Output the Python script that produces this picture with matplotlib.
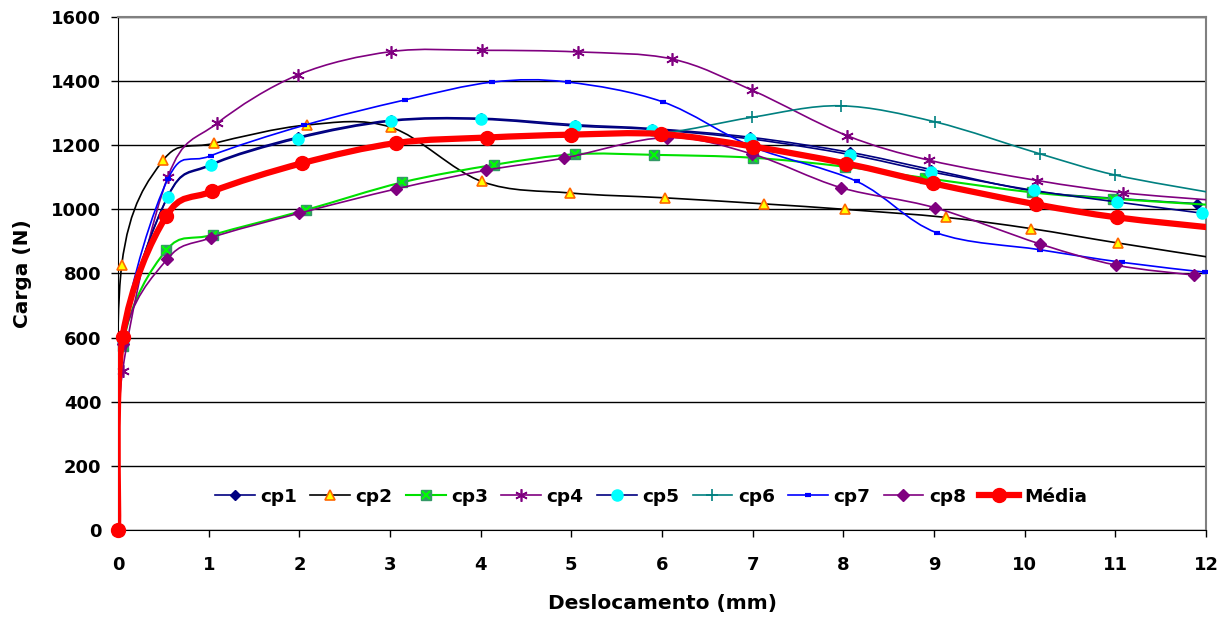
import numpy as np
import matplotlib
matplotlib.use("Agg")
import matplotlib.pyplot as plt
from matplotlib.path import Path
from matplotlib.patches import PathPatch
from matplotlib.lines import Line2D
from matplotlib.legend_handler import HandlerTuple

# Dados (deslocamento em mm, carga em N)
cp1_x = [0, 0.05, 0.55, 1.02, 1.98, 3.01, 4.0, 5.04, 5.89, 6.97, 8.07, 8.97, 10.1, 11.02, 11.9]
cp1_y = [0, 590, 1042, 1140, 1225, 1278, 1284, 1264, 1252, 1225, 1178, 1124, 1057, 1034, 1018]

cp2_x = [0, 0.04, 0.50, 1.06, 2.08, 3.01, 4.01, 4.99, 6.03, 7.13, 8.02, 9.13, 10.07, 11.03, 12.1]
cp2_y = [0, 825, 1154, 1206, 1263, 1256, 1087, 1051, 1036, 1017, 1000, 975, 940, 895, 848]

cp3_x = [0, 0.05, 0.53, 1.05, 2.07, 3.13, 4.15, 5.04, 5.91, 7.0, 8.02, 8.9, 10.08, 10.97, 12.1]
cp3_y = [0, 573, 872, 921, 998, 1084, 1139, 1172, 1170, 1161, 1133, 1098, 1053, 1033, 1013]

cp4_x = [0, 0.05, 0.55, 1.09, 1.99, 3.01, 4.01, 5.07, 6.11, 6.99, 8.04, 8.95, 10.14, 11.08, 12.1]
cp4_y = [0, 496, 1102, 1268, 1420, 1492, 1496, 1491, 1469, 1372, 1230, 1153, 1090, 1052, 1028]

cp5_x = [0, 0.05, 0.55, 1.02, 1.98, 3.01, 4.0, 5.04, 5.89, 6.97, 8.07, 8.97, 10.1, 11.02, 11.96]
cp5_y = [0, 590, 1040, 1137, 1221, 1275, 1281, 1260, 1249, 1220, 1171, 1117, 1059, 1023, 988]

cp6_x = [0, 0.05, 0.53, 1.04, 2.03, 3.07, 4.07, 5.0, 6.0, 6.99, 7.97, 9.01, 10.17, 11.0, 12.1]
cp6_y = [0, 600, 978, 1056, 1144, 1207, 1224, 1233, 1238, 1287, 1323, 1273, 1173, 1107, 1050]

cp7_x = [0, 0.05, 0.55, 1.02, 2.05, 3.16, 4.13, 4.96, 6.01, 7.0, 8.15, 9.03, 10.17, 11.07, 11.99]
cp7_y = [0, 600, 1095, 1167, 1262, 1341, 1397, 1397, 1335, 1195, 1087, 927, 874, 835, 804]

cp8_x = [0, 0.05, 0.54, 1.02, 2.0, 3.07, 4.06, 4.92, 6.05, 6.99, 7.97, 9.01, 10.17, 11.01, 11.87]
cp8_y = [0, 581, 844, 911, 988, 1064, 1122, 1160, 1224, 1173, 1068, 1005, 892, 826, 795]

media_x = [0, 0.05, 0.53, 1.04, 2.03, 3.07, 4.07, 5.0, 5.99, 7.0, 8.03, 8.99, 10.12, 11.02, 12.1]
media_y = [0, 602, 978, 1056, 1144, 1207, 1224, 1233, 1235, 1196, 1143, 1081, 1016, 975, 942]

x_ticks = list(range(0, 13))
y_ticks = list(range(0, 1601, 200))

plt.rcParams['font.family'] = ['DejaVu Sans']
plt.rcParams['font.weight'] = 'bold'


def smooth_path(xs, ys):
    # linha suavizada estilo Excel (Bezier tipo Catmull-Rom)
    p = np.column_stack([xs, ys]).astype(float)
    n = len(p)
    verts = [p[0]]
    codes = [Path.MOVETO]
    for i in range(n - 1):
        p0 = p[i - 1] if i > 0 else p[i]
        p3 = p[i + 2] if i + 2 < n else p[i + 1]
        c1 = p[i] + (p[i + 1] - p0) / 6.0
        c2 = p[i + 1] - (p3 - p[i]) / 6.0
        verts += [c1, c2, p[i + 1]]
        codes += [Path.CURVE4] * 3
    return Path(verts, codes)


fig = plt.figure(figsize=(12.31, 6.24), dpi=100)
ax = fig.add_axes([0.0959, 0.1506, 0.8838, 0.8222])

star = (6, 2, 0)
series = [
    (cp1_x, cp1_y, 'cp1', dict(color='#000080', lw=1.2), [dict(marker='D', ms=5.5, mfc='#000080', mec='#000080')]),
    (cp2_x, cp2_y, 'cp2', dict(color='#000000', lw=1.2), [dict(marker='^', ms=7.5, mfc='#FFFF00', mec='#FF6600', mew=1.2)]),
    (cp3_x, cp3_y, 'cp3', dict(color='#00E000', lw=1.5), [dict(marker='s', ms=7, mfc='#339966', mec='#339966'),
                                                       dict(marker='x', ms=6, mec='#00FF00', mew=1.5)]),
    (cp4_x, cp4_y, 'cp4', dict(color='#800080', lw=1.2), [dict(marker=star, ms=9, mec='#800080', mew=1.2)]),
    (cp5_x, cp5_y, 'cp5', dict(color='#000080', lw=1.2), [dict(marker='o', ms=8, mfc='#00FFFF', mec='#00FFFF')]),
    (cp6_x, cp6_y, 'cp6', dict(color='#008080', lw=1.2), [dict(marker='+', ms=9, mec='#008080', mew=1.2)]),
    (cp7_x, cp7_y, 'cp7', dict(color='#0000FF', lw=1.2), [dict(marker='_', ms=5, mec='#0000FF', mew=3)]),
    (cp8_x, cp8_y, 'cp8', dict(color='#800080', lw=1.2), [dict(marker='D', ms=6, mfc='#800080', mec='#800080')]),
    (media_x, media_y, 'Média', dict(color='#FF0000', lw=4.5), [dict(marker='o', ms=10, mfc='#FF0000', mec='#FF0000')]),
]

handles = []
z = 3
for xs, ys, label, line_kw, marker_list in series:
    patch = PathPatch(smooth_path(xs, ys), fill=False, edgecolor=line_kw['color'],
                      lw=line_kw['lw'], zorder=z, capstyle='round', joinstyle='round')
    ax.add_patch(patch)
    # marcadores só dentro do eixo, sem corte na borda
    xa, ya = np.array(xs), np.array(ys)
    inside = xa <= 12
    for mk in marker_list:
        ax.plot(xa[inside], ya[inside], linestyle='none', zorder=z + 0.5, clip_on=False, **mk)
    # legenda: linha + marcador
    h = [Line2D([], [], color=line_kw['color'], lw=line_kw['lw'], **marker_list[0])]
    for mk in marker_list[1:]:
        h.append(Line2D([], [], linestyle='none', **mk))
    handles.append(tuple(h))
    z += 1

ax.legend(handles, [s[2] for s in series], handler_map={tuple: HandlerTuple(ndivide=1, pad=0)},
          loc='center', bbox_to_anchor=(0.49, 0.065), ncol=9, frameon=False,
          fontsize=13.3, handlelength=2.15, handletextpad=0.3, columnspacing=0.72)

ax.set_xlim(0, 12)
ax.set_ylim(0, 1600)
ax.set_xticks(x_ticks)
ax.set_yticks(y_ticks)
ax.tick_params(axis='both', direction='out', length=5, width=1, labelsize=13, pad=7)
ax.tick_params(axis='x', pad=14)
ax.yaxis.grid(True, color='black', lw=1)
ax.set_axisbelow(True)

for side in ['top', 'right']:
    ax.spines[side].set_color('#808080')
    ax.spines[side].set_linewidth(1.5)
ax.spines['left'].set_color('black')
ax.spines['bottom'].set_color('black')

ax.set_xlabel('Deslocamento (mm)', fontsize=14.5, fontweight='bold', labelpad=14)
ax.set_ylabel('Carga (N)', fontsize=14.5, fontweight='bold', labelpad=14)

fig.savefig('out.png', dpi=100)
